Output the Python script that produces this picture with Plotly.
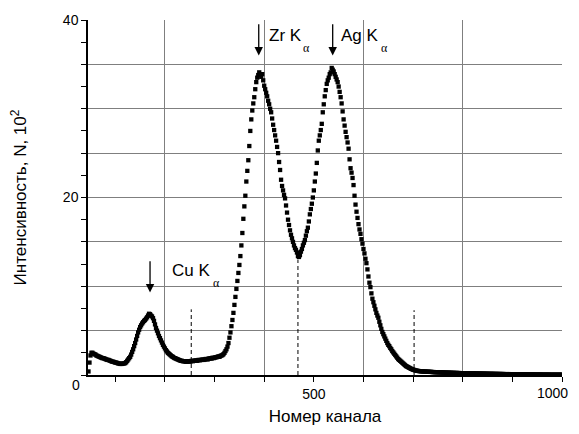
import plotly.graph_objects as go

# ---------------- data ----------------
CHANNEL_START = 46
CHANNEL_STEP = 2
# counts (x 10^2) for channels 46, 48, 50, ... 1000
COUNTS = [
    0.4, 1.4, 2.2, 2.5, 2.5, 2.4, 2.35, 2.3, 2.2, 2.15,
    2.1, 2.05, 2.0, 1.95, 1.9, 1.9, 1.85, 1.8, 1.75, 1.7,
    1.7, 1.65, 1.6, 1.55, 1.5, 1.5, 1.45, 1.4, 1.4, 1.35,
    1.3, 1.3, 1.25, 1.25, 1.25, 1.3, 1.3, 1.35, 1.45, 1.6,
    1.75, 1.9, 2.05, 2.3, 2.6, 2.9, 3.25, 3.6, 4.0, 4.4,
    4.8, 5.1, 5.4, 5.6, 5.8, 5.95, 6.1, 6.2, 6.35, 6.5,
    6.7, 6.9, 6.85, 6.7, 6.6, 6.4, 6.1, 5.7, 5.3, 5.0,
    4.7, 4.4, 4.15, 3.9, 3.65, 3.4, 3.2, 3.0, 2.8, 2.65,
    2.5, 2.4, 2.3, 2.2, 2.1, 2.05, 1.95, 1.9, 1.85, 1.8,
    1.75, 1.7, 1.65, 1.6, 1.6, 1.55, 1.55, 1.55, 1.5, 1.5,
    1.55, 1.55, 1.5, 1.55, 1.6, 1.55, 1.6, 1.6, 1.65, 1.6,
    1.65, 1.7, 1.65, 1.7, 1.7, 1.75, 1.7, 1.75, 1.8, 1.8,
    1.75, 1.85, 1.85, 1.9, 1.85, 1.95, 1.9, 1.95, 2.0, 2.0,
    2.05, 2.1, 2.05, 2.15, 2.2, 2.25, 2.35, 2.5, 2.7, 2.9,
    3.2, 3.6, 4.2, 4.8, 5.5, 6.2, 7.0, 7.9, 8.8, 9.7,
    10.6, 11.5, 12.4, 13.4, 14.6, 16.0, 17.6, 19.0, 20.2, 21.8,
    23.0, 24.2, 25.8, 27.5, 28.8, 29.8, 30.6, 31.3, 32.2, 33.0,
    33.5, 33.8, 34.1, 33.9, 33.6, 33.9, 33.2, 32.6, 32.2, 31.8,
    31.4, 30.9, 30.5, 30.0, 29.6, 28.9, 28.2, 27.6, 27.0, 26.4,
    25.7, 25.0, 24.0, 23.1, 22.0, 21.3, 20.8, 20.3, 19.9, 19.1,
    18.3, 17.5, 16.9, 16.3, 15.8, 15.4, 15.0, 14.6, 14.3, 14.1,
    13.8, 13.4, 13.3, 13.5, 13.9, 14.2, 14.6, 14.9, 15.2, 15.7,
    16.2, 16.6, 17.3, 18.1, 18.7, 19.3, 20.0, 20.8, 21.8, 22.7,
    23.9, 25.3, 26.4, 27.0, 27.6, 28.3, 29.6, 30.5, 31.4, 32.1,
    32.8, 33.2, 33.5, 33.9, 34.1, 34.6, 34.4, 34.2, 33.9, 33.6,
    33.3, 33.0, 32.5, 31.9, 31.3, 30.6, 29.7, 28.8, 28.1, 27.4,
    26.8, 26.2, 25.5, 24.3, 23.3, 22.8, 22.2, 21.4, 20.2, 19.2,
    18.4, 17.7, 17.0, 16.4, 15.9, 15.3, 14.8, 14.2, 13.7, 13.1,
    12.6, 11.9, 11.1, 10.4, 9.9, 9.2, 8.6, 8.2, 7.8, 7.4,
    7.0, 6.7, 6.45, 6.0, 5.6, 5.2, 4.85, 4.6, 4.35, 4.1,
    3.85, 3.6, 3.4, 3.25, 3.05, 2.9, 2.7, 2.55, 2.4, 2.25,
    2.1, 1.95, 1.8, 1.7, 1.6, 1.5, 1.4, 1.3, 1.2, 1.1,
    1.0, 0.95, 0.88, 0.82, 0.76, 0.7, 0.65, 0.6, 0.57, 0.53,
    0.5, 0.48, 0.46, 0.44, 0.43, 0.42, 0.41, 0.4, 0.39, 0.39,
    0.38, 0.37, 0.37, 0.36, 0.35, 0.35, 0.34, 0.33, 0.33, 0.32,
    0.32, 0.31, 0.31, 0.3, 0.3, 0.29, 0.29, 0.28, 0.28, 0.27,
    0.27, 0.26, 0.26, 0.26, 0.25, 0.25, 0.24, 0.24, 0.24, 0.23,
    0.23, 0.23, 0.22, 0.22, 0.22, 0.21, 0.21, 0.21, 0.2, 0.2,
    0.2, 0.19, 0.19, 0.19, 0.18, 0.18, 0.18, 0.18, 0.17, 0.17,
    0.17, 0.17, 0.16, 0.16, 0.16, 0.16, 0.15, 0.15, 0.15, 0.15,
    0.14, 0.14, 0.14, 0.14, 0.13, 0.13, 0.13, 0.13, 0.13, 0.12,
    0.12, 0.12, 0.12, 0.12, 0.11, 0.11, 0.11, 0.11, 0.11, 0.1,
    0.1, 0.1, 0.1, 0.1, 0.1, 0.09, 0.09, 0.09, 0.09, 0.09,
    0.09, 0.08, 0.08, 0.08, 0.08, 0.08, 0.08, 0.07, 0.07, 0.07,
    0.07, 0.07, 0.07, 0.06, 0.06, 0.06, 0.06, 0.06, 0.06, 0.06,
    0.05, 0.05, 0.05, 0.05, 0.05, 0.05, 0.05, 0.04, 0.04, 0.04,
    0.04, 0.04, 0.04, 0.04, 0.04, 0.03, 0.03, 0.03, 0.03, 0.03,
    0.03, 0.03, 0.03, 0.03, 0.03, 0.03, 0.03, 0.03,
]
CHANNELS = [CHANNEL_START + CHANNEL_STEP * i for i in range(len(COUNTS))]

# dashed boundary markers (channel, height)
BOUND_CHANNELS = [253, 468, 702]
BOUND_HEIGHTS = [7.4, 13.0, 7.3]

# peak labels
PEAK_NAMES = ["Cu K", "Zr K", "Ag K"]
PEAK_CHANNELS = [170, 389, 538]
ARROW_TOP = [13.0, 39.7, 39.7]
ARROW_TIP = [9.3, 36.0, 36.0]
LABEL_CHANNELS = [210, 405, 551]
LABEL_HEIGHTS = [11.8, 38.3, 38.3]
ALPHA_CHANNELS = [293, 475, 632]
ALPHA_HEIGHTS = [10.4, 36.8, 36.9]

X_TICKS = [100, 200, 300, 400, 500, 600, 700, 800, 900, 1000]
X_TICKTEXT = ["", "", "", "", "500", "", "", "", "", ""]
X_END_LABEL = "1000"
X_GRID = [200, 400, 600, 800, 1000]
Y_TICKS = [0, 2.5, 5, 7.5, 10, 12.5, 15, 17.5, 20, 22.5, 25, 27.5, 30, 32.5, 35, 37.5, 40]
Y_TICKTEXT = ["" if v not in (20, 40) else str(v) for v in Y_TICKS]
Y_GRID = [5, 10, 15, 20, 25, 30, 35, 40]

FONT = "Liberation Sans, Arial, sans-serif"
SERIF = "Liberation Serif, Times New Roman, serif"

fig = go.Figure()

fig.add_trace(go.Scatter(
    x=CHANNELS, y=COUNTS, mode="markers",
    marker=dict(symbol="square", size=4.3, color="black", line=dict(width=0)),
    showlegend=False, hoverinfo="x+y",
))

for bx, bh in zip(BOUND_CHANNELS, BOUND_HEIGHTS):
    fig.add_trace(go.Scatter(
        x=[bx, bx], y=[0, bh], mode="lines",
        line=dict(color="black", width=1, dash="4px,3px"),
        showlegend=False, hoverinfo="skip",
    ))

annotations = []
for name, pc, at, tip, lc, lh, ac, ah in zip(PEAK_NAMES, PEAK_CHANNELS, ARROW_TOP, ARROW_TIP,
                                              LABEL_CHANNELS, LABEL_HEIGHTS,
                                              ALPHA_CHANNELS, ALPHA_HEIGHTS):
    annotations.append(dict(
        x=pc, y=tip, ax=pc, ay=at, xref="x", yref="y", axref="x", ayref="y",
        text="", showarrow=True, arrowhead=2, arrowsize=1.3, arrowwidth=1.3,
        arrowcolor="black",
    ))
    annotations.append(dict(
        x=lc, y=lh, xref="x", yref="y", text=name, showarrow=False,
        xanchor="left", yanchor="middle", font=dict(family=FONT, size=17, color="black"),
    ))
    annotations.append(dict(
        x=ac, y=ah, xref="x", yref="y", text="α", showarrow=False,
        xanchor="left", yanchor="middle", font=dict(family=SERIF, size=12, color="black"),
    ))

# origin label
annotations.append(dict(
    x=-0.012, y=-0.028, xref="paper", yref="paper", text="0", showarrow=False,
    xanchor="right", yanchor="middle", font=dict(family=FONT, size=14, color="black"),
))
# end label of the x axis, kept inside the visible window
annotations.append(dict(
    x=1.0169, y=-0.052, xref="paper", yref="paper", text=X_END_LABEL, showarrow=False,
    xanchor="right", yanchor="middle", font=dict(family=FONT, size=14, color="black"),
))

# the page body adds an 8px margin round the figure; keep the page within the window
fig.update_layout(
    width=571, height=418,
    margin=dict(l=80, r=17, t=12, b=51),
    paper_bgcolor="white", plot_bgcolor="white",
    font=dict(family=FONT, size=14, color="black"),
    annotations=annotations,
    xaxis=dict(
        range=[45, 1000], tickmode="array", tickvals=X_TICKS, ticktext=X_TICKTEXT,
        ticks="outside", ticklen=5, tickwidth=1, tickcolor="black",
        showgrid=False, zeroline=False, automargin=False,
        showline=True, linecolor="black", linewidth=1.5,
        minor=dict(tickmode="array", tickvals=X_GRID, ticks="", showgrid=True,
                   gridcolor="#7f7f7f", gridwidth=1),
        title=dict(text="Номер канала", font=dict(family=FONT, size=17), standoff=13),
        tickfont=dict(family=FONT, size=14),
    ),
    yaxis=dict(
        range=[0, 40], tickmode="array", tickvals=Y_TICKS, ticktext=Y_TICKTEXT,
        ticks="outside", ticklen=5, tickwidth=1, tickcolor="black",
        showgrid=False, zeroline=False, automargin=False,
        showline=True, linecolor="black", linewidth=1.5,
        minor=dict(tickmode="array", tickvals=Y_GRID, ticks="", showgrid=True,
                   gridcolor="#7f7f7f", gridwidth=1),
        title=dict(text="Интенсивность, N, 10<sup>2</sup>", font=dict(family=FONT, size=17),
                   standoff=32),
        tickfont=dict(family=FONT, size=14),
    ),
)

fig.write_html("out.html")
